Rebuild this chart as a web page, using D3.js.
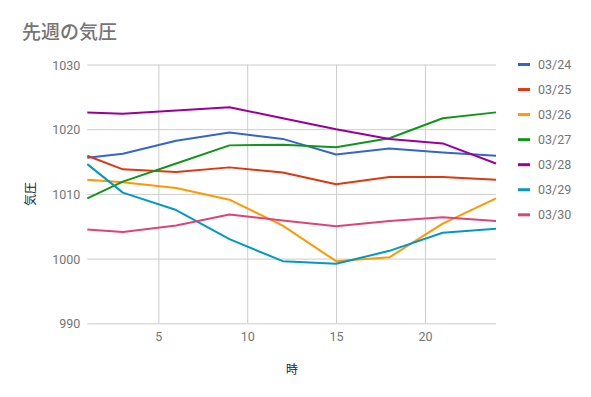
<!DOCTYPE html>
<html><head><meta charset="utf-8">
<script src="https://cdn.jsdelivr.net/npm/d3@7"></script>
<style>body{margin:0;background:#fff}svg{display:block}</style>
</head><body>
<svg id="c" width="591" height="397"></svg>
<script>
const hours = [1, 3, 6, 9, 12, 15, 18, 21, 24];
const seriesNames = ["03/24", "03/25", "03/26", "03/27", "03/28", "03/29", "03/30"];
const s0324 = [1015.6, 1016.2, 1018.2, 1019.5, 1018.5, 1016.1, 1017.0, 1016.4, 1015.9];
const s0325 = [1015.9, 1013.8, 1013.4, 1014.1, 1013.3, 1011.5, 1012.6, 1012.6, 1012.2];
const s0326 = [1012.2, 1011.8, 1010.9, 1009.1, 1005.1, 999.6, 1000.2, 1005.4, 1009.3];
const s0327 = [1009.3, 1011.9, 1014.7, 1017.5, 1017.6, 1017.2, 1018.6, 1021.7, 1022.6];
const s0328 = [1022.6, 1022.4, 1022.9, 1023.4, 1021.7, 1020.0, 1018.5, 1017.8, 1014.7];
const s0329 = [1014.6, 1010.2, 1007.5, 1003.0, 999.6, 999.2, 1001.2, 1004.0, 1004.6];
const s0330 = [1004.5, 1004.1, 1005.1, 1006.8, 1005.9, 1005.0, 1005.8, 1006.4, 1005.8];
const seriesValues = [s0324, s0325, s0326, s0327, s0328, s0329, s0330];
const colors = ["#3366cc", "#dc3912", "#ff9900", "#109618", "#990099", "#0099c6", "#dd4477"];
const xTicks = [5, 10, 15, 20];
const yTicks = [990, 1000, 1010, 1020, 1030];
const title = "先週の気圧";
const xTitle = "時";
const yTitle = "気圧";

const svg = d3.select("#c");
const font = "Roboto, 'Noto Sans CJK JP', sans-serif";
const L = 87.3, R = 496, T = 64.5, B = 323.3;
const x = d3.scaleLinear().domain([1, 24]).range([L, R]);
const y = d3.scaleLinear().domain([990, 1030]).range([B, T]);

// grid
const gx = svg.append("g").attr("transform", `translate(0,${B})`)
  .call(d3.axisBottom(x).tickValues(xTicks).tickSize(-(B - T)).tickFormat(d3.format("d")));
gx.select(".domain").remove();
gx.selectAll("line").attr("stroke", "#cccccc");
gx.selectAll("text").attr("fill", "#757575").attr("font-size", "12.5px").attr("font-family", font).attr("dy", "0").attr("y", 18);

const gy = svg.append("g").attr("transform", `translate(${L},0)`)
  .call(d3.axisLeft(y).tickValues(yTicks).tickSize(-(R - L)).tickFormat(d3.format("d")));
gy.select(".domain").remove();
gy.selectAll("line").attr("stroke", "#cccccc");
gy.selectAll("text").attr("fill", "#757575").attr("font-size", "12.5px").attr("font-family", font).attr("x", -7).attr("dy", "0.36em");

// lines
const line = d3.line().x((d, i) => x(hours[i])).y(d => y(d));
seriesValues.forEach((vals, k) => {
  svg.append("path").datum(vals).attr("d", line)
    .attr("fill", "none").attr("stroke", colors[k]).attr("stroke-width", 2)
    .attr("stroke-linejoin", "round");
});

// title
svg.append("text").attr("x", 22).attr("y", 39).text(title)
  .attr("fill", "#757575").attr("font-size", "19px").attr("font-weight", "500").attr("font-family", font);

// axis titles
svg.append("text").attr("x", 292).attr("y", 374).attr("text-anchor", "middle").text(xTitle)
  .attr("fill", "#222").attr("font-size", "12px").attr("font-family", font);
svg.append("text").attr("transform", "translate(35,194) rotate(-90)").attr("text-anchor", "middle").text(yTitle)
  .attr("fill", "#222").attr("font-size", "12px").attr("font-family", font);

// legend
const lg = svg.append("g");
seriesNames.forEach((n, k) => {
  const yy = 64.5 + k * 25.05;
  lg.append("line").attr("x1", 518).attr("x2", 530).attr("y1", yy).attr("y2", yy)
    .attr("stroke", colors[k]).attr("stroke-width", 3);
  lg.append("text").attr("x", 538).attr("y", yy).attr("dy", "0.36em").text(n)
    .attr("fill", "#757575").attr("font-size", "12.5px").attr("font-family", font);
});
</script>
</body></html>
